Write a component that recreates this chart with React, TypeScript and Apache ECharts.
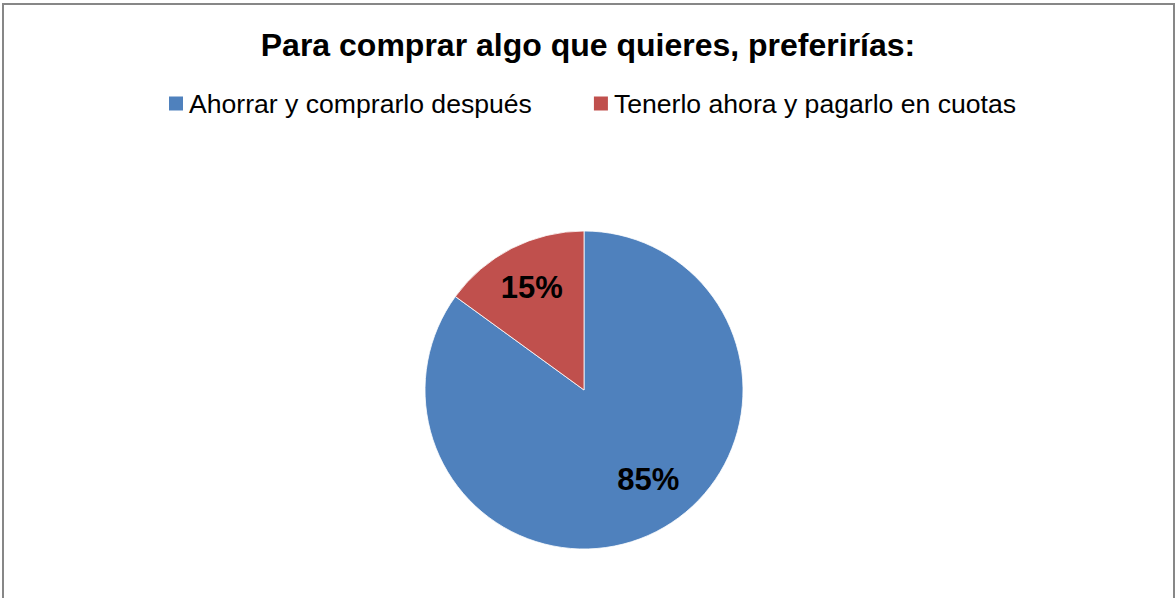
import React, { useEffect, useRef } from "react";
import * as echarts from "echarts";

const titleText = "Para comprar algo que quieres, preferirías:";
const categories = ["Ahorrar y comprarlo después", "Tenerlo ahora y pagarlo en cuotas"];
const values = [85, 15];
const colors = ["#4F81BD", "#C0504D"];
const labelOffsets: [number, number][] = [[12, -13], [0, 0]];

export default function App() {
  const ref = useRef<HTMLDivElement>(null);
  useEffect(() => {
    document.body.style.margin = "0";
    const chart = echarts.init(ref.current!, undefined, { renderer: "svg" });
    const font = "'Liberation Sans', Arial, sans-serif";
    chart.setOption({
      animation: false,
      backgroundColor: "#ffffff",
      title: {
        text: titleText,
        left: "center",
        top: 29,
        padding: 0,
        textStyle: { fontFamily: font, fontSize: 32, fontWeight: "bold", color: "#000" },
      },
      legend: {
        data: categories,
        left: 167,
        top: 90,
        padding: 0,
        itemWidth: 16,
        itemHeight: 16,
        itemGap: 60,
        icon: "rect",
        selectedMode: false,
        textStyle: { fontFamily: font, fontSize: 26.6, color: "#000" },
      },
      graphic: [
        {
          type: "rect",
          shape: { x: 3, y: 4, width: 1171, height: 700 },
          style: { fill: "none", stroke: "#878787", lineWidth: 2 },
          silent: true,
        },
      ],
      series: [
        {
          type: "pie",
          center: [584, 390],
          radius: [0, 159],
          startAngle: 90,
          clockwise: true,
          label: { show: false },
          labelLine: { show: false },
          itemStyle: { borderColor: "#ffffff", borderWidth: 0.8 },
          emphasis: { disabled: true },
          data: categories.map((name, i) => ({
            name,
            value: values[i],
            itemStyle: { color: colors[i] },
          })),
        },
        {
          type: "pie",
          center: [584, 390],
          radius: [0, 224],
          startAngle: 90,
          clockwise: true,
          silent: true,
          emphasis: { disabled: true },
          itemStyle: { color: "rgba(0,0,0,0)" },
          labelLine: { show: false },
          label: {
            show: true,
            position: "inside",
            formatter: (p: any) => p.value + "%",
            fontFamily: font,
            fontSize: 31,
            fontWeight: "bold",
            color: "#000",
          },
          data: categories.map((name, i) => ({
            name,
            value: values[i],
            label: { offset: labelOffsets[i] },
          })),
        },
      ],
    });
    return () => chart.dispose();
  }, []);
  return <div ref={ref} style={{ width: 1176, height: 598 }} />;
}
